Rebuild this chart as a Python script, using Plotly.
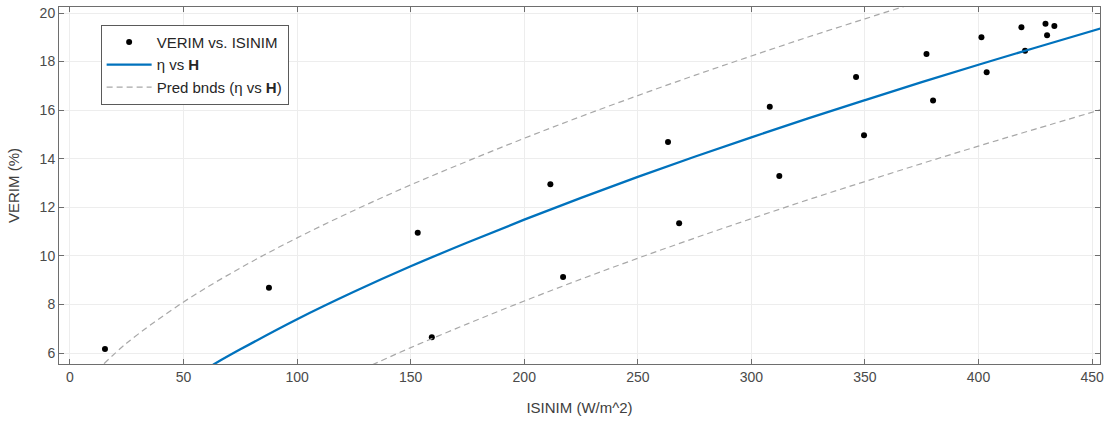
import plotly.graph_objects as go

# Measured data (ISINIM W/m^2, VERIM %)
isinim = [15.4, 87.6, 153.1, 159.3, 211.5, 217.1, 263.3, 268.2, 308.1, 312.3,
          346.1, 349.6, 377.1, 380.0, 401.3, 403.6, 418.9, 420.5, 429.5, 430.2, 433.4]
verim = [6.16, 8.69, 10.95, 6.65, 12.95, 9.13, 14.69, 11.34, 16.14, 13.29,
         17.36, 14.97, 18.31, 16.40, 19.00, 17.56, 19.41, 18.45, 19.56, 19.08, 19.46]

# Fitted curve
fit_x = [63, 75, 100, 125, 150, 175, 200, 225, 250, 275, 300, 325, 350, 375, 400, 425, 455]
fit_y = [5.52, 6.15, 7.39, 8.52, 9.57, 10.55, 11.49, 12.39, 13.25, 14.08, 14.88,
         15.66, 16.41, 17.15, 17.87, 18.57, 19.40]

# Prediction bounds
up_x = [15, 25, 50, 75, 100, 125, 150, 175, 200, 225, 250, 275, 300, 325, 350, 370]
up_y = [5.56, 6.41, 8.10, 9.50, 10.74, 11.87, 12.92, 13.90, 14.84, 15.74, 16.60,
        17.43, 18.23, 19.01, 19.76, 20.35]
lo_x = [133, 150, 175, 200, 225, 250, 275, 300, 325, 350, 375, 400, 425, 455]
lo_y = [5.51, 6.22, 7.20, 8.14, 9.04, 9.90, 10.73, 11.53, 12.31, 13.06, 13.80,
        14.52, 15.22, 16.05]

x_ticks = [0, 50, 100, 150, 200, 250, 300, 350, 400, 450]
y_ticks = [6, 8, 10, 12, 14, 16, 18, 20]

FONT = "Liberation Sans, Arial, Helvetica, sans-serif"
AXC = "#6e6e6e"

fig = go.Figure()
fig.add_trace(go.Scatter(x=isinim, y=verim, mode="markers", name="VERIM vs. ISINIM",
                         marker=dict(color="black", size=6)))
fig.add_trace(go.Scatter(x=fit_x, y=fit_y, mode="lines", name="η vs <b>H</b>",
                         line=dict(color="#0072BD", width=2.3, shape="spline")))
fig.add_trace(go.Scatter(x=up_x, y=up_y, mode="lines", name="Pred bnds (η vs <b>H</b>)",
                         legendgroup="pb",
                         line=dict(color="#a8a8a8", width=1.2, dash="6px,4px", shape="spline")))
fig.add_trace(go.Scatter(x=lo_x, y=lo_y, mode="lines", name="Pred bnds (η vs <b>H</b>)",
                         legendgroup="pb", showlegend=False,
                         line=dict(color="#a8a8a8", width=1.2, dash="6px,4px", shape="spline")))

fig.update_layout(
    width=1108, height=426,
    margin=dict(l=59, r=8, t=7, b=62, autoexpand=False),
    paper_bgcolor="white", plot_bgcolor="white",
    font=dict(family=FONT, size=14, color="#404040"),
    showlegend=True,
    legend=dict(x=0.040, y=0.950, xanchor="left", yanchor="top",
                bgcolor="white", bordercolor="#5a5a5a", borderwidth=1,
                font=dict(family=FONT, size=15, color="#262626"),
                tracegroupgap=0, itemwidth=45),
)
fig.update_xaxes(range=[-4.84, 453.5], tickvals=x_ticks, ticks="inside", ticklen=5,
                 tickcolor=AXC, showline=True, linecolor=AXC, linewidth=1, mirror="allticks",
                 showgrid=True, gridcolor="#ededed", gridwidth=1, zeroline=False,
                 automargin=False, ticklabeloverflow="allow",
                 title=dict(text="ISINIM (W/m^2)", standoff=18, font=dict(size=15)),
                 tickfont=dict(size=14, color="#4a4a4a"))
fig.update_yaxes(range=[5.547, 20.247], tickvals=y_ticks, ticks="inside", ticklen=5,
                 tickcolor=AXC, showline=True, linecolor=AXC, linewidth=1, mirror="allticks",
                 showgrid=True, gridcolor="#ededed", gridwidth=1, zeroline=False,
                 automargin=False, ticklabeloverflow="allow",
                 title=dict(text="VERIM (%)", standoff=16, font=dict(size=15)),
                 tickfont=dict(size=14, color="#4a4a4a"))

fig.write_html("out.html", config={"displayModeBar": False},
               post_script="document.body.style.margin='0';")
